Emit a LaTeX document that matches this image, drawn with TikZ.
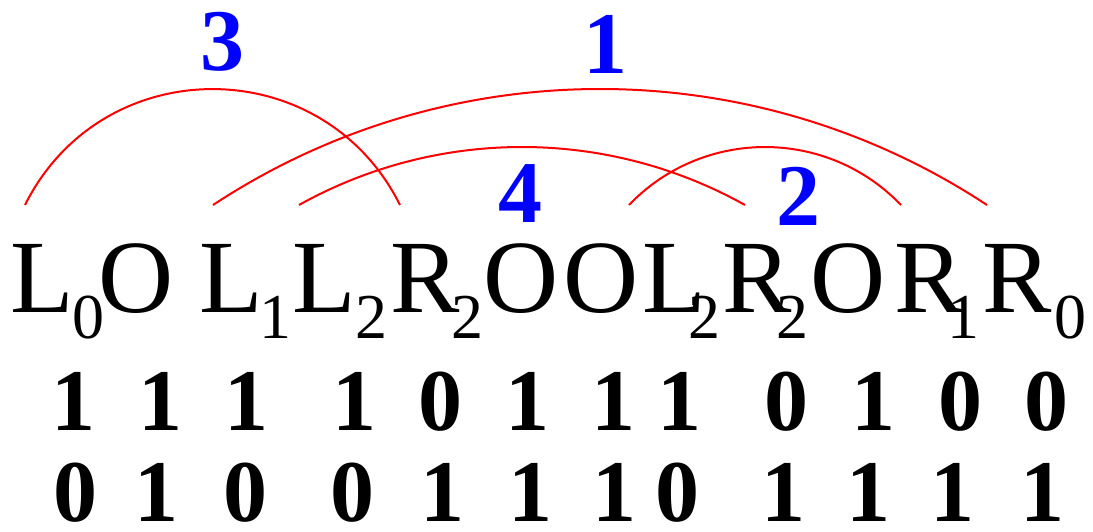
\documentclass[tikz,border=0pt]{standalone}
\usepackage{fontspec}
\setmainfont{Liberation Serif}
\usepackage{xcolor}
\usepackage{tikz}

\begin{document}
\begin{tikzpicture}[
    x=1pt, y=1pt,
    every node/.style={color=black, inner sep=0pt, outer sep=0pt, anchor=base},
    sym/.style={font=\fontsize{104}{110}\selectfont},
    sub/.style={font=\fontsize{64}{70}\selectfont},
    bit/.style={font=\fontsize{88}{92}\selectfont\bfseries},
    num/.style={font=\fontsize{88}{92}\selectfont\bfseries, color=blue},
    link/.style={color=red, line width=2pt}
]
\useasboundingbox (0,0) rectangle (1093,-531);

% =========================================================
% WORD: brackets L_i / R_i and fillers O
% =========================================================
\node[sym] (l0)  at (42,-312)   {L};
\node[sub] (l0s) at (88,-338)   {0};
\node[sym] (o1)  at (136,-312)  {O};
\node[sym] (l1)  at (231,-312)  {L};
\node[sub] (l1s) at (275,-338)  {1};
\node[sym] (l2)  at (324,-312)  {L};
\node[sub] (l2s) at (371,-338)  {2};
\node[sym] (r2)  at (425,-312)  {R};
\node[sub] (r2s) at (467,-338)  {2};
\node[sym] (o2)  at (521,-312)  {O};
\node[sym] (o3)  at (601,-312)  {O};
\node[sym] (l3)  at (674,-312)  {L};
\node[sub] (l3s) at (704,-338)  {2};
\node[sym] (r3)  at (757,-312)  {R};
\node[sub] (r3s) at (792,-338)  {2};
\node[sym] (o4)  at (848,-312)  {O};
\node[sym] (r1)  at (929,-312)  {R};
\node[sub] (r1s) at (963,-338)  {1};
\node[sym] (r0)  at (1017,-312) {R};
\node[sub] (r0s) at (1070,-338) {0};

% =========================================================
% BIT ROWS
% =========================================================
% upper row
\node[bit] (ua) at (73,-430)   {1};
\node[bit] (ub) at (160,-430)  {1};
\node[bit] (uc) at (246,-430)  {1};
\node[bit] (ud) at (354,-430)  {1};
\node[bit] (ue) at (440,-430)  {0};
\node[bit] (uf) at (527,-430)  {1};
\node[bit] (ug) at (613,-430)  {1};
\node[bit] (uh) at (679,-430)  {1};
\node[bit] (ui) at (786,-430)  {0};
\node[bit] (uj) at (873,-430)  {1};
\node[bit] (uk) at (960,-430)  {0};
\node[bit] (ul) at (1046,-430) {0};
% lower row
\node[bit] (da) at (75,-521)   {0};
\node[bit] (db) at (156,-521)  {1};
\node[bit] (dc) at (245,-521)  {0};
\node[bit] (dd) at (352,-521)  {0};
\node[bit] (de) at (442,-521)  {1};
\node[bit] (df) at (530,-521)  {1};
\node[bit] (dg) at (614,-521)  {1};
\node[bit] (dh) at (677,-521)  {0};
\node[bit] (di) at (783,-521)  {1};
\node[bit] (dj) at (868,-521)  {1};
\node[bit] (dk) at (952,-521)  {1};
\node[bit] (dl) at (1042,-521) {1};

% =========================================================
% MATCHING ARCS and their order
% =========================================================
\coordinate (a3s) at (25,-205);
\coordinate (a3e) at (400,-205);
\coordinate (a1s) at (213,-205);
\coordinate (a1e) at (987,-205);
\coordinate (a4s) at (299,-205);
\coordinate (a4e) at (745,-205);
\coordinate (a2s) at (629,-205);
\coordinate (a2e) at (901,-205);

\draw[link] (a3s) .. controls +(63.45:172.8) and +(116.55:172.8) .. (a3e);
\draw[link] (a1s) .. controls +(33.37:281.2) and +(146.63:281.2) .. (a1e);
\draw[link] (a4s) .. controls +(29.16:158.7) and +(150.84:158.7) .. (a4e);
\draw[link] (a2s) .. controls +(46.2:107.1) and +(133.8:107.1) .. (a2e);

\node[num] (n3) at (222,-70)  {3};
\node[num] (n1) at (605,-73)  {1};
\node[num] (n4) at (520,-222) {4};
\node[num] (n2) at (798,-225) {2};

\end{tikzpicture}
\end{document}
